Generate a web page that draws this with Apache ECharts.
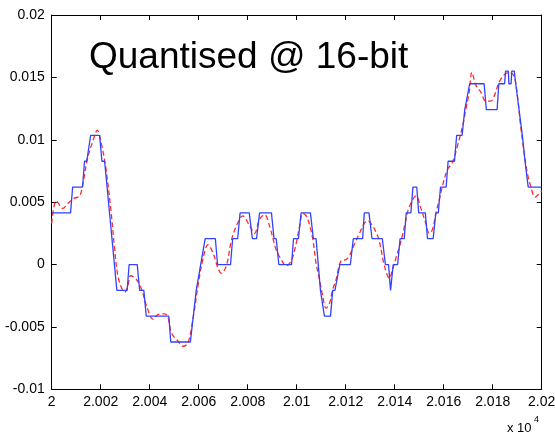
<!DOCTYPE html>
<html>
<head>
<meta charset="utf-8">
<script src="https://cdn.jsdelivr.net/npm/echarts@6/dist/echarts.min.js"></script>
<style>
  html, body { margin: 0; padding: 0; background: #ffffff; }
  #chart { width: 555px; height: 435px; }
</style>
</head>
<body>
<div id="chart"></div>
<script>
// Sample index axis (absolute sample numbers, shown in units of 1e4)
const xTicks = [20000, 20020, 20040, 20060, 20080, 20100, 20120, 20140, 20160, 20180, 20200];
const yTicks = [-0.01, -0.005, 0, 0.005, 0.01, 0.015, 0.02];

// Quantised signal: vertices of the stepped trace
const quantX = [
  20000, 20007.7, 20008.55, 20012.6, 20013.4, 20014.3, 20015.9, 20019.55, 20020.5, 20021.6,
  20026.6, 20030.8, 20031.6, 20034.9, 20035.9, 20037.6, 20038.6, 20047.8, 20048.6, 20056.6,
  20059.0, 20060.8, 20061.6, 20062.65, 20066.8, 20067.7, 20073.0, 20073.85, 20075.9, 20076.9,
  20080.65, 20081.9, 20083.6, 20084.85, 20089.7, 20090.75, 20091.65, 20092.7, 20097.9, 20098.7,
  20100.7, 20101.8, 20105.6, 20106.8, 20107.9, 20109.7, 20111.3, 20113.8, 20114.7, 20115.6,
  20117.6, 20121.9, 20123.1, 20126.9, 20127.6, 20129.5, 20130.75, 20134.95, 20136.2, 20137.5,
  20138.3, 20139.4, 20141.2, 20142.2, 20143.9, 20144.7, 20146.6, 20147.45, 20149.0, 20149.8,
  20152.5, 20153.4, 20155.7, 20156.8, 20157.8, 20158.7, 20161.0, 20161.8, 20164.4, 20165.3,
  20167.5, 20168.6, 20169.3, 20170.6, 20176.5, 20177.4, 20181.8, 20182.5, 20184.85, 20185.25,
  20186.4, 20186.6, 20187.5, 20187.8, 20188.8, 20189.4, 20192.1, 20193.2, 20193.7, 20194.5,
  20200
];
const quantY = [
  0.00414, 0.00414, 0.00621, 0.00621, 0.00828, 0.00828, 0.01035, 0.01035, 0.00828, 0.00828,
  -0.00207, -0.00207, 0, 0, -0.00207, -0.00207, -0.00414, -0.00414, -0.00621, -0.00621,
  -0.00207, 0, 0, 0.00207, 0.00207, 0, 0, 0.00207, 0.00207, 0.00414,
  0.00414, 0.00207, 0.00207, 0.00414, 0.00414, 0.00207, 0.00207, 0, 0, 0.00207,
  0.00207, 0.00414, 0.00414, 0.00207, 0.00207, -0.00207, -0.00414, -0.00414, -0.00207, -0.00207,
  0, 0, 0.00207, 0.00207, 0.00414, 0.00414, 0.00207, 0.00207, 0, 0,
  -0.00207, 0, 0, 0.00207, 0.00207, 0.00414, 0.00414, 0.00621, 0.00621, 0.00414,
  0.00414, 0.00207, 0.00207, 0.00414, 0.00414, 0.00621, 0.00621, 0.00828, 0.00828, 0.01035,
  0.01035, 0.01242, 0.01242, 0.01449, 0.01449, 0.01242, 0.01242, 0.01449, 0.01449, 0.0155,
  0.0155, 0.01449, 0.01449, 0.0155, 0.0155, 0.01449, 0.01035, 0.00828, 0.00828, 0.00621,
  0.00621
];

// Original (unquantised) signal
const origX = [
  20000, 20001.9, 20004.6, 20006.6, 20009.1, 20011.4, 20012.75, 20014.5, 20016.8, 20018.6,
  20020.2, 20022.2, 20024.3, 20025.7, 20027.0, 20028.6, 20029.9, 20031.1, 20032.2, 20034.6,
  20036.7, 20038.7, 20041.4, 20043.4, 20046.2, 20047.5, 20048.9, 20051.6, 20053.6, 20055.6,
  20057.7, 20059.7, 20061.8, 20063.8, 20065.8, 20067.9, 20069.2, 20071.3, 20073.3, 20075.4,
  20078.0, 20080.8, 20082.8, 20084.8, 20086.9, 20088.9, 20091.6, 20093.7, 20095.7, 20097.8,
  20099.8, 20101.1, 20102.5, 20103.9, 20105.2, 20106.6, 20107.9, 20109.3, 20110.6, 20112.0,
  20113.4, 20114.7, 20116.1, 20118.1, 20120.2, 20121.5, 20123.5, 20125.6, 20127.6, 20129.0,
  20131.0, 20132.6, 20133.7, 20135.8, 20137.8, 20139.1, 20140.5, 20142.6, 20144.6, 20145.9,
  20148.7, 20150.7, 20152.7, 20154.1, 20155.4, 20156.8, 20158.2, 20159.5, 20161.5, 20163.6,
  20165.6, 20167.7, 20169.0, 20170.4, 20171.5, 20173.1, 20175.2, 20177.2, 20179.2, 20180.6,
  20182.6, 20184.6, 20186.7, 20188.7, 20190.1, 20191.4, 20192.8, 20194.1, 20195.5, 20197.3,
  20200
];
const origY = [
  0.0033, 0.0051, 0.0045, 0.0049, 0.0053, 0.0055, 0.0065, 0.0084, 0.0099, 0.01075,
  0.00975, 0.0076, 0.0041, 0.0012, -0.0009, -0.0019, -0.0022, -0.0017, -0.0009, -0.0012,
  -0.0020, -0.0033, -0.0044, -0.0040, -0.00395, -0.00425, -0.0055, -0.00615, -0.00655, -0.0063,
  -0.0043, -0.0017, 0.0005, 0.0016, 0.00095, -0.0003, -0.0007, -0.0001, 0.0019, 0.0031,
  0.0039, 0.0031, 0.0025, 0.0036, 0.0040, 0.0031, 0.0012, 0.0004, -0.0001, 0.0003,
  0.0017, 0.0030, 0.0041, 0.0039, 0.0032, 0.0020, 0.0001, -0.0012, -0.0025, -0.0035,
  -0.0031, -0.0020, -0.0012, 0.0003, 0.0004, 0.0007, 0.0016, 0.0025, 0.0033, 0.0035,
  0.0031, 0.0025, 0.0019, -0.0001, -0.0011, -0.0004, 0.0005, 0.0019, 0.0036, 0.0046,
  0.0055, 0.0045, 0.0033, 0.0025, 0.0028, 0.0041, 0.0052, 0.0063, 0.0076, 0.0082,
  0.0095, 0.0111, 0.0124, 0.0138, 0.0154, 0.0144, 0.0138, 0.0131, 0.0131, 0.0135,
  0.0146, 0.0152, 0.0154, 0.0151, 0.0135, 0.0111, 0.0090, 0.00735, 0.0063, 0.0054,
  0.0059
];

const titleText = 'Quantised @ 16-bit';
const xScaleText = 'x 10';
const xScaleExp = '4';

const pair = (xs, ys) => xs.map((x, i) => [x, ys[i]]);
const fmtX = v => String(Number((v / 1e4).toFixed(3)));
const fmtY = v => String(Number(v.toFixed(3)));

const FONT = '"Liberation Sans", Arial, Helvetica, sans-serif';
const mkLine = () => ({ show: true, onZero: false, lineStyle: { color: '#000', width: 1 } });
const mkTick = () => ({ show: true, inside: true, length: 5, lineStyle: { color: '#000', width: 1 } });

const chart = echarts.init(document.getElementById('chart'), null, { renderer: 'canvas' });
chart.setOption({
  animation: false,
  backgroundColor: '#ffffff',
  grid: { left: 51.7, right: 13.3, top: 15, bottom: 45.7, containLabel: false, outerBoundsMode: 'none' },
  xAxis: [
    {
      type: 'value', min: 20000, max: 20200, interval: 20, position: 'bottom',
      axisLine: mkLine(), axisTick: mkTick(), splitLine: { show: false },
      axisLabel: { show: true, formatter: fmtX, color: '#000', fontSize: 14, fontFamily: FONT, margin: 6,
                   showMinLabel: true, showMaxLabel: true }
    },
    {
      // mirrored frame edge along the top
      type: 'value', min: 20000, max: 20200, interval: 20, position: 'top',
      axisLine: mkLine(), axisTick: mkTick(), splitLine: { show: false }, axisLabel: { show: false }
    }
  ],
  yAxis: [
    {
      type: 'value', min: -0.01, max: 0.02, interval: 0.005, position: 'left',
      axisLine: mkLine(), axisTick: mkTick(), splitLine: { show: false },
      axisLabel: { show: true, formatter: fmtY, color: '#000', fontSize: 14, fontFamily: FONT, margin: 7,
                   showMinLabel: true, showMaxLabel: true }
    },
    {
      // mirrored frame edge along the right
      type: 'value', min: -0.01, max: 0.02, interval: 0.005, position: 'right',
      axisLine: mkLine(), axisTick: mkTick(), splitLine: { show: false }, axisLabel: { show: false }
    }
  ],
  series: [
    {
      // the original trace uses the mirrored axes (same ranges), which keeps them laid out
      name: 'original', type: 'line', xAxisIndex: 1, yAxisIndex: 1,
      data: pair(origX, origY), showSymbol: false, smooth: 0.35,
      lineStyle: { color: '#ff2a2a', width: 1.3, type: [5, 3] }, z: 2
    },
    {
      name: 'quantised', type: 'line', xAxisIndex: 0, yAxisIndex: 0,
      data: pair(quantX, quantY), showSymbol: false,
      lineStyle: { color: '#3340ff', width: 1.3 }, z: 3
    }
  ],
  graphic: [
    {
      type: 'text', left: 89, top: 39, silent: true,
      style: { text: titleText, fill: '#000', font: '37px ' + FONT }
    },
    {
      type: 'text', left: 507, top: 422, silent: true,
      style: { text: xScaleText, fill: '#000', font: '13px ' + FONT }
    },
    {
      type: 'text', left: 534, top: 415, silent: true,
      style: { text: xScaleExp, fill: '#000', font: '9px ' + FONT }
    }
  ]
});
</script>
</body>
</html>
